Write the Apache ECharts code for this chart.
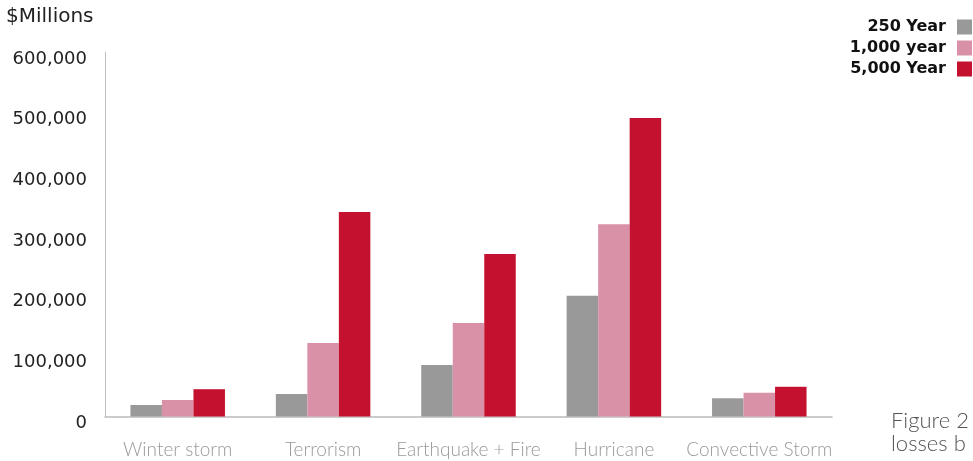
<!DOCTYPE html>
<html><head><meta charset="utf-8">
<script src="https://cdn.jsdelivr.net/npm/echarts@6/dist/echarts.min.js"></script>
<style>html,body{margin:0;padding:0;background:#fff;overflow:hidden}#c{width:973px;height:461px}</style>
</head><body><div id="c"></div>
<script>
const categories = ['Winter storm','Terrorism','Earthquake + Fire','Hurricane','Convective Storm'];
const seriesNames = ['250 Year','1,000 year','5,000 Year'];
const year250 = [19000, 37000, 85000, 199000, 30000];
const year1000 = [27000, 121000, 154000, 317000, 39000];
const year5000 = [45000, 337000, 268000, 492000, 49000];
const colors = ['#999999','#d991a8','#c3112f'];
const font = '"DejaVu Sans", sans-serif';
const light = 'Lato, "Open Sans", sans-serif';

const chart = echarts.init(document.getElementById('c'));
const mk = (name, data, color) => ({
  name, type:'bar', data, barGap:'0%', barCategoryGap:'35%',
  itemStyle:{color}, emphasis:{disabled:true}
});
chart.setOption({
  animation:false,
  grid:{left:105, right:141, top:52.5, bottom:44.5, containLabel:false},
  legend:{
    orient:'vertical', right:-4, top:14, align:'right',
    itemWidth:15, itemHeight:15, itemGap:5, icon:'rect',
    textStyle:{fontFamily:font, fontSize:16, fontWeight:'bold', color:'#111', lineHeight:15, padding:[0,6,0,0]},
    data:seriesNames
  },
  graphic:[
    {type:'text', left:6, top:7, style:{text:'$Millions', font:'20px '+font, fill:'#222'}},
    {type:'text', left:891, top:410, style:{text:'Figure 2', font:'300 22px '+light, fill:'#555'}},
    {type:'text', left:891, top:433, style:{text:'losses b', font:'300 22px '+light, fill:'#555'}}
  ],
  xAxis:{
    type:'category', data:categories,
    axisLine:{lineStyle:{color:'#bbbbbb', width:1.5}},
    axisTick:{show:false},
    axisLabel:{fontFamily:light, fontSize:19, fontWeight:300, color:'#999', margin:24, interval:0}
  },
  yAxis:{
    type:'value', min:0, max:600000, interval:100000,
    axisLine:{show:true, lineStyle:{color:'#bbbbbb', width:1}},
    axisTick:{show:false},
    splitLine:{show:false},
    axisLabel:{fontFamily:font, fontSize:18, color:'#222', margin:18, verticalAlign:'top', lineHeight:13,
      formatter:v=>v.toLocaleString('en-US')}
  },
  series:[mk(seriesNames[0],year250,colors[0]), mk(seriesNames[1],year1000,colors[1]), mk(seriesNames[2],year5000,colors[2])]
});
</script></body></html>
